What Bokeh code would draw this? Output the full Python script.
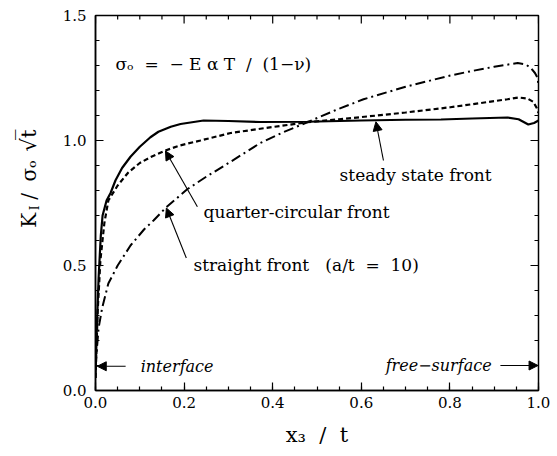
import math
import numpy as np
from bokeh.plotting import figure
from bokeh.layouts import row
from bokeh.models import (Range1d, SingleIntervalTicker, PrintfTickFormatter,
                          Label, Arrow, NormalHead)
from bokeh.core.properties import value
from bokeh.embed import file_html
from bokeh.resources import INLINE

# Normalised stress intensity factor along the crack front, x3/t from interface to free surface
steady_x = [0.0, 0.003, 0.007, 0.012, 0.016, 0.025, 0.034, 0.045, 0.06, 0.079, 0.1, 0.124,
            0.142, 0.17, 0.192, 0.244, 0.3, 0.372, 0.478, 0.6, 0.7, 0.78, 0.85, 0.93, 0.955,
            0.977, 0.99, 1.0]
steady_y = [0.05, 0.25, 0.45, 0.62, 0.70, 0.76, 0.79, 0.84, 0.89, 0.935, 0.975, 1.013,
            1.035, 1.055, 1.066, 1.08, 1.078, 1.074, 1.075, 1.08, 1.083, 1.084, 1.088, 1.092,
            1.085, 1.064, 1.07, 1.08]

quarter_x = [0.0, 0.005, 0.011, 0.02, 0.029, 0.05, 0.074, 0.1, 0.124, 0.158, 0.19, 0.237,
             0.305, 0.372, 0.478, 0.55, 0.636, 0.7, 0.801, 0.87, 0.93, 0.955, 0.975, 0.988,
             0.996, 1.0]
quarter_y = [0.05, 0.32, 0.52, 0.67, 0.76, 0.82, 0.872, 0.91, 0.933, 0.96, 0.98, 1.0,
             1.03, 1.047, 1.073, 1.085, 1.1, 1.112, 1.133, 1.15, 1.165, 1.172, 1.168, 1.155,
             1.13, 1.11]

straight_x = [0.0, 0.007, 0.015, 0.029, 0.05, 0.079, 0.11, 0.131, 0.158, 0.207, 0.25, 0.305,
              0.372, 0.42, 0.478, 0.54, 0.605, 0.7, 0.801, 0.847, 0.9, 0.953, 0.97, 0.982,
              0.992, 0.998, 1.0]
straight_y = [0.1, 0.25, 0.33, 0.428, 0.5, 0.58, 0.645, 0.68, 0.73, 0.805, 0.855, 0.915,
              0.99, 1.03, 1.073, 1.12, 1.165, 1.215, 1.26, 1.277, 1.295, 1.31, 1.305, 1.292,
              1.27, 1.25, 1.22]

X_MAJOR, X_MINOR = 0.2, 0.05
Y_MAJOR, Y_MINOR = 0.5, 0.1
X_MAX, Y_MAX = 1.0, 1.5

SERIF = "DejaVu Serif"
TXT = "black"
NB = "\u00a0"  # non-collapsing space for the wider gaps

# ---- main plot ---------------------------------------------------------------
p = figure(width=507, height=456, output_backend="svg", toolbar_location=None,
           x_range=Range1d(0, X_MAX), y_range=Range1d(0, Y_MAX),
           min_border_left=45, min_border_right=19, min_border_top=15, min_border_bottom=66,
           background_fill_color="white", border_fill_color="white")
p.xgrid.visible = False
p.ygrid.visible = False
p.outline_line_color = "black"
p.outline_line_width = 1.5

p.xaxis.ticker = SingleIntervalTicker(interval=X_MAJOR, num_minor_ticks=4)
p.yaxis.ticker = SingleIntervalTicker(interval=Y_MAJOR, num_minor_ticks=5)
for ax in (p.xaxis[0], p.yaxis[0]):
    ax.formatter = PrintfTickFormatter(format="%.1f")
    ax.major_label_text_font = SERIF
    ax.major_label_text_font_size = "15px"
    ax.major_label_text_color = TXT
    ax.axis_line_width = 1.5
    ax.major_tick_in = 8
    ax.major_tick_out = 0
    ax.minor_tick_in = 4
    ax.minor_tick_out = 0
    ax.major_tick_line_width = 1.2
    ax.minor_tick_line_width = 1.2
p.xaxis.major_label_standoff = 6
p.yaxis.major_label_standoff = 9

p.xaxis.axis_label = f"x₃{NB} /{NB} t"
p.xaxis.axis_label_text_font = SERIF
p.xaxis.axis_label_text_font_style = "normal"
p.xaxis.axis_label_text_font_size = "21px"
p.xaxis.axis_label_text_color = TXT
p.xaxis.axis_label_standoff = 12

# mirrored inward tick marks along the top and right edges (half of each dash is clipped)
xt = np.round(np.arange(0, X_MAX + 1e-9, X_MINOR), 3)
yt = np.round(np.arange(0, Y_MAX + 1e-9, Y_MINOR), 3)
xt_major = [v for v in xt if abs(v / X_MAJOR - round(v / X_MAJOR)) < 1e-6]
xt_minor = [v for v in xt if v not in xt_major]
yt_major = [v for v in yt if abs(v / Y_MAJOR - round(v / Y_MAJOR)) < 1e-6]
yt_minor = [v for v in yt if v not in yt_major]
p.scatter(xt_major, [Y_MAX] * len(xt_major), marker="dash", angle=math.pi / 2, size=16,
          line_color="black", line_width=1.2)
p.scatter(xt_minor, [Y_MAX] * len(xt_minor), marker="dash", angle=math.pi / 2, size=8,
          line_color="black", line_width=1.2)
p.scatter([X_MAX] * len(yt_major), yt_major, marker="dash", size=16,
          line_color="black", line_width=1.2)
p.scatter([X_MAX] * len(yt_minor), yt_minor, marker="dash", size=8,
          line_color="black", line_width=1.2)

# curves
p.line(steady_x, steady_y, line_color="black", line_width=2.2)
p.line(quarter_x, quarter_y, line_color="black", line_width=2.2, line_dash="5 3")
p.line(straight_x, straight_y, line_color="black", line_width=2.0, line_dash="10 4 2 4")


def note(x, y, text, style="normal", size="17px"):
    p.add_layout(Label(x=x, y=y, text=text, text_align="left", text_baseline="middle",
                       text_font=SERIF, text_font_size=size, text_font_style=style,
                       text_color=TXT))


def arrow(x0, y0, x1, y1):
    p.add_layout(Arrow(x_start=x0, y_start=y0, x_end=x1, y_end=y1, line_width=1.1,
                       end=NormalHead(size=9, fill_color="black", line_color="black",
                                      line_width=1)))


note(0.045, 1.308, f"σₒ{NB} ={NB} − E α T{NB} /{NB} (1−ν)")
note(0.551, 0.864, "steady state front")
note(0.244, 0.716, "quarter-circular front")
note(0.221, 0.504, f"straight front{NB}{NB} (a/t{NB} ={NB} 10)")
note(0.102, 0.097, "interface", style="italic", size="16px")
note(0.655, 0.100, "free−surface", style="italic", size="16px")

arrow(0.65, 0.92, 0.633, 1.075)
arrow(0.23, 0.735, 0.158, 0.958)
arrow(0.205, 0.53, 0.16, 0.73)
arrow(0.068, 0.097, 0.004, 0.097)
arrow(0.914, 0.100, 0.999, 0.100)

# ---- rotated y-axis title in a narrow strip to the left ------------------------
LW, H = 50, 456
lab = figure(width=LW, height=H, output_backend="svg", toolbar_location=None,
             x_range=Range1d(0, LW), y_range=Range1d(0, H),
             min_border=0, x_axis_type=None, y_axis_type=None,
             background_fill_color="white", border_fill_color="white")
lab.outline_line_color = None
lab.xgrid.visible = False
lab.ygrid.visible = False

ytitle_text = ["K", "I", "/", "σₒ", "√t̅"]
ytitle_x = [28, 34, 28, 28, 28]
ytitle_top = [249, 234, 220, 189, 152]
ytitle_size = ["20px", "12px", "20px", "20px", "21px"]
lab.text(x=ytitle_x, y=[H - v for v in ytitle_top], text=ytitle_text,
         angle=math.pi / 2, text_align="center", text_baseline="middle",
         text_font=value(SERIF), text_font_size=ytitle_size, text_color=TXT)

layout = row(lab, p, spacing=0)
open("out.html", "w").write(file_html(layout, INLINE))
